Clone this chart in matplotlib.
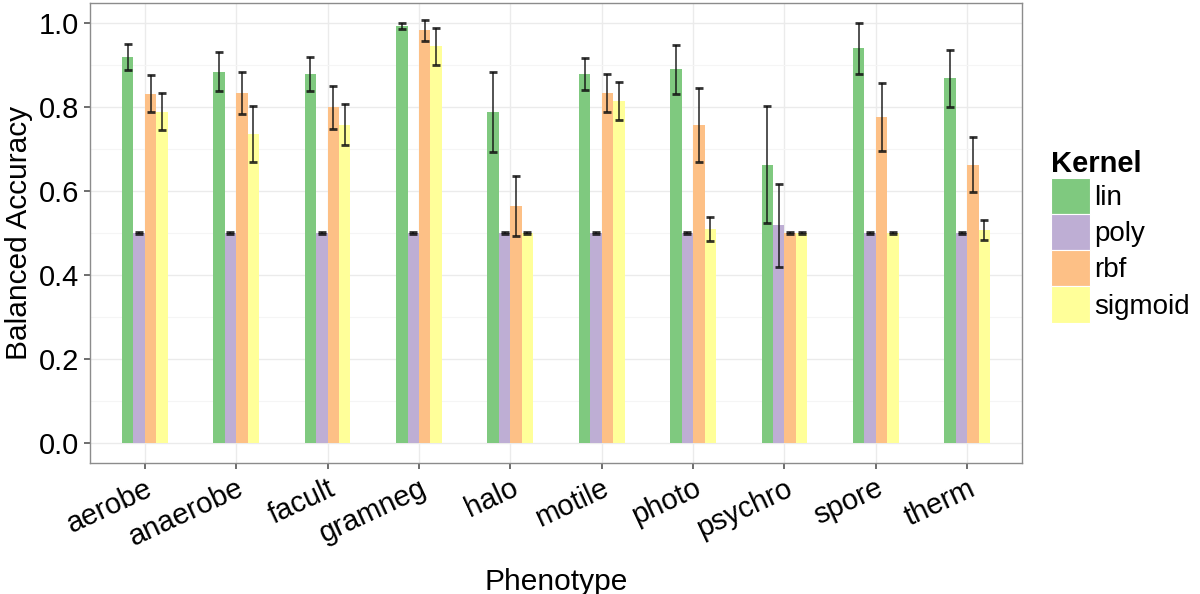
import matplotlib.pyplot as plt
import numpy as np
from matplotlib.patches import Patch

plt.rcParams['font.family'] = ['Liberation Sans', 'DejaVu Sans']

# data
phenotypes = ['aerobe', 'anaerobe', 'facult', 'gramneg', 'halo',
              'motile', 'photo', 'psychro', 'spore', 'therm']
kernels = ['lin', 'poly', 'rbf', 'sigmoid']
colors = ['#7FC97F', '#BEAED4', '#FDC086', '#FFFF99']

lin_mean = [0.918, 0.884, 0.879, 0.993, 0.788, 0.879, 0.890, 0.663, 0.940, 0.868]
lin_err = [0.031, 0.046, 0.040, 0.008, 0.096, 0.038, 0.058, 0.139, 0.061, 0.068]
poly_mean = [0.5, 0.5, 0.5, 0.5, 0.5, 0.5, 0.5, 0.518, 0.5, 0.5]
poly_err = [0.002, 0.002, 0.002, 0.002, 0.002, 0.002, 0.002, 0.099, 0.002, 0.002]
rbf_mean = [0.832, 0.833, 0.799, 0.982, 0.564, 0.833, 0.758, 0.5, 0.776, 0.663]
rbf_err = [0.044, 0.050, 0.052, 0.024, 0.071, 0.046, 0.088, 0.002, 0.080, 0.066]
sig_mean = [0.789, 0.736, 0.758, 0.944, 0.5, 0.815, 0.510, 0.5, 0.5, 0.508]
sig_err = [0.044, 0.067, 0.048, 0.045, 0.002, 0.045, 0.028, 0.002, 0.002, 0.024]

means = [lin_mean, poly_mean, rbf_mean, sig_mean]
errs = [lin_err, poly_err, rbf_err, sig_err]

#-----------------------
fig = plt.figure(figsize=(12, 5.94), dpi=100)
ax = fig.add_axes([0.075, 0.2205, 0.7767, 0.7745])

x = np.arange(1, len(phenotypes) + 1)
w = 0.125
for i in range(4):
    pos = x + (i - 1.5) * w
    ax.bar(pos, means[i], width=w, color=colors[i], zorder=2)
    ax.errorbar(pos, means[i], yerr=errs[i], fmt='none', ecolor='#111111',
                elinewidth=1.2, capsize=3, capthick=2, alpha=0.85, zorder=3)

ax.set_xlim(0.4, 10.6)
ax.set_ylim(-0.0475, 1.0475)
ax.set_yticks([0.0, 0.2, 0.4, 0.6, 0.8, 1.0])
ax.set_yticks(np.arange(0.1, 1.0, 0.2), minor=True)
ax.set_yticklabels(['0.0', '0.2', '0.4', '0.6', '0.8', '1.0'], fontsize=21)
ax.set_xticks(x)
ax.set_xticklabels(phenotypes, fontsize=21, rotation=25, ha='right',
                   rotation_mode='anchor')

ax.grid(which='major', color='#EBEBEB', linewidth=1.0, zorder=0)
ax.grid(which='minor', axis='y', color='#F5F5F5', linewidth=0.8, zorder=0)
ax.set_axisbelow(True)
ax.tick_params(which='major', direction='out', length=4, width=1.2,
               color='#555555', pad=4)
ax.tick_params(which='minor', length=0)
for s in ax.spines.values():
    s.set_color('#8C8C8C')
    s.set_linewidth(1.0)

ax.set_xlabel('Phenotype', fontsize=21.5, labelpad=12)
ax.set_ylabel('Balanced Accuracy', fontsize=21.5, labelpad=4)

handles = [Patch(facecolor=c, edgecolor='white', linewidth=0.8) for c in colors]
leg = fig.legend(handles, kernels, loc='upper left', bbox_to_anchor=(0.876, 0.748),
                 frameon=False, fontsize=20, title='Kernel', handlelength=1.4,
                 handleheight=1.63, handletextpad=0.15, labelspacing=0.0,
                 borderaxespad=0, borderpad=0)
leg.get_title().set_fontsize(21)
leg.get_title().set_fontweight('bold')
leg._legend_box.align = 'left'

plt.savefig('out.png', dpi=100)
